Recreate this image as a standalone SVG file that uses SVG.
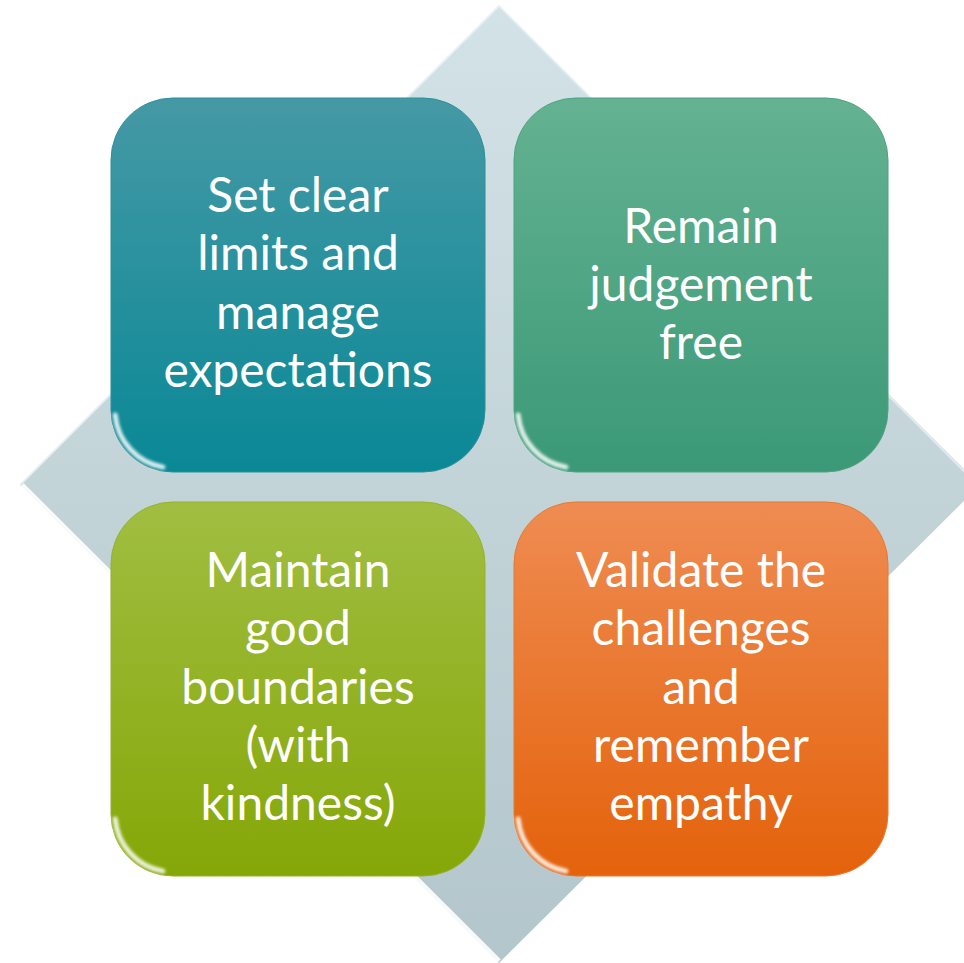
<svg xmlns="http://www.w3.org/2000/svg" width="964" height="963" viewBox="0 0 964 963">
<defs>
<linearGradient id="gDia" x1="0" y1="0" x2="0" y2="1">
<stop offset="0" stop-color="#d3e2e6"/>
<stop offset="1" stop-color="#b3c6cb"/>
</linearGradient>
<linearGradient id="gTL" x1="0" y1="0" x2="0" y2="1">
<stop offset="0" stop-color="#4599a5"/>
<stop offset="1" stop-color="#0a8896"/>
</linearGradient>
<linearGradient id="gTR" x1="0" y1="0" x2="0" y2="1">
<stop offset="0" stop-color="#64b292"/>
<stop offset="1" stop-color="#3b9977"/>
</linearGradient>
<linearGradient id="gBL" x1="0" y1="0" x2="0" y2="1">
<stop offset="0" stop-color="#a1be42"/>
<stop offset="1" stop-color="#85a707"/>
</linearGradient>
<linearGradient id="gBR" x1="0" y1="0" x2="0" y2="1">
<stop offset="0" stop-color="#ef8c52"/>
<stop offset="1" stop-color="#e4620b"/>
</linearGradient>
<filter id="blur" x="-20%" y="-20%" width="140%" height="140%">
<feGaussianBlur stdDeviation="1.5"/>
</filter>
</defs>
<style>
.t{font-family:Lato,"Open Sans","DejaVu Sans",sans-serif;font-size:48px;fill:#ffffff;text-anchor:middle}
.hl{fill:none;stroke:#ffffff;stroke-linecap:round;filter:url(#blur)}
</style>
<g id="diamond">
<polygon points="499,6 980,485 499,963 20,485" fill="url(#gDia)"/>
<polyline points="22,485 499,961" fill="none" stroke="#ffffff" stroke-width="5" opacity="0.9"/>
<polyline points="20,485 499,6 978,485" fill="none" stroke="#e6f0f2" stroke-width="2" opacity="0.8"/>
</g>
<g id="box-tl">
<rect x="111" y="98" width="374" height="374" rx="62" fill="url(#gTL)" stroke="#2a8f9b" stroke-width="1"/>
<path d="M165,101 H430" class="hl" stroke-width="4" opacity="0.55"/>
<path d="M115.2,415.1 A58,58 0 0 0 162.9,467.1" class="hl" stroke-width="5" opacity="0.85"/>
<path d="M482,150 V420" class="hl" stroke-width="2" opacity="0.4"/>
<text class="t" x="298" y="212">Set clear</text>
<text class="t" x="298" y="270">limits and</text>
<text class="t" x="298" y="329">manage</text>
<text class="t" x="298" y="387">expectations</text>
</g>
<g id="box-tr">
<rect x="514" y="98" width="374" height="374" rx="62" fill="url(#gTR)" stroke="#4ca382" stroke-width="1"/>
<path d="M568,101 H833" class="hl" stroke-width="4" opacity="0.55"/>
<path d="M518.2,415.1 A58,58 0 0 0 565.9,467.1" class="hl" stroke-width="5" opacity="0.85"/>
<path d="M885,150 V420" class="hl" stroke-width="2" opacity="0.4"/>
<text class="t" x="701" y="243">Remain</text>
<text class="t" x="701" y="301">judgement</text>
<text class="t" x="701" y="359">free</text>
</g>
<g id="box-bl">
<rect x="111" y="502" width="374" height="374" rx="62" fill="url(#gBL)" stroke="#93b326" stroke-width="1"/>
<path d="M165,505 H430" class="hl" stroke-width="4" opacity="0.55"/>
<path d="M115.2,819.1 A58,58 0 0 0 162.9,871.1" class="hl" stroke-width="5" opacity="0.85"/>
<path d="M482,554 V824" class="hl" stroke-width="2" opacity="0.4"/>
<text class="t" x="298" y="587">Maintain</text>
<text class="t" x="298" y="645">good</text>
<text class="t" x="298" y="704">boundaries</text>
<text class="t" x="298" y="762">(with</text>
<text class="t" x="298" y="820">kindness)</text>
</g>
<g id="box-br">
<rect x="514" y="502" width="374" height="374" rx="62" fill="url(#gBR)" stroke="#e9782e" stroke-width="1"/>
<path d="M568,505 H833" class="hl" stroke-width="4" opacity="0.55"/>
<path d="M518.2,819.1 A58,58 0 0 0 565.9,871.1" class="hl" stroke-width="5" opacity="0.85"/>
<path d="M885,554 V824" class="hl" stroke-width="2" opacity="0.4"/>
<text class="t" x="701" y="587">Validate the</text>
<text class="t" x="701" y="645">challenges</text>
<text class="t" x="701" y="704">and</text>
<text class="t" x="701" y="762">remember</text>
<text class="t" x="701" y="820">empathy</text>
</g>
<g id="connectors"></g>
</svg>
